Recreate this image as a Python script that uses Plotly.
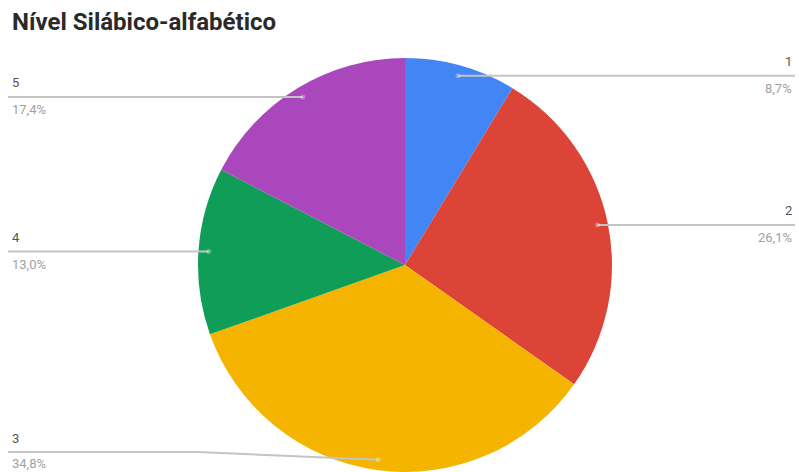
import math
import plotly.graph_objects as go

categories = ["1", "2", "3", "4", "5"]
counts = [2, 6, 8, 3, 4]
colors = ["#4285F4", "#DB4437", "#F4B400", "#0F9D58", "#AB47BC"]
title = "Nível Silábico-alfabético"

W, H = 799, 472
# pie placement in pixels
cx, cy, r = 405, 265, 207
dom_x = [(cx - r) / W, (cx + r) / W]
dom_y = [1 - (cy + r) / H, 1 - (cy - r) / H]

fig = go.Figure(go.Pie(
    labels=categories, values=counts, sort=False, direction="clockwise",
    rotation=0, marker=dict(colors=colors, line=dict(width=0)),
    textinfo="none", hoverinfo="label+percent", showlegend=False,
    domain=dict(x=dom_x, y=dom_y),
))

def px(x):
    return x / W

def py(y):
    return 1 - y / H

total = sum(counts)
shapes, annotations = [], []
cum = 0
bottom_limit = 452
for cat, v, col in zip(categories, counts, colors):
    mid = (cum + v / 2) / total * 2 * math.pi
    cum += v
    dx = math.sin(mid) * r * 0.95
    dy = -math.cos(mid) * r * 0.95
    dot_x, dot_y = cx + dx, cy + dy
    line_y = min(dot_y, bottom_limit)
    right = dx > 0
    edge_x = 795 if right else 8
    if dot_y > bottom_limit:
        bend_x = dot_x + (180 if right else -180)
        path = f"M{px(dot_x)},{py(dot_y)} L{px(bend_x)},{py(line_y)} L{px(edge_x)},{py(line_y)}"
    else:
        path = f"M{px(dot_x)},{py(dot_y)} L{px(edge_x)},{py(line_y)}"
    shapes.append(dict(type="path", path=path, xref="paper", yref="paper",
                       line=dict(color="#c4c4c4", width=2)))
    shapes.append(dict(type="circle", xref="paper", yref="paper",
                       xsizemode="pixel", ysizemode="pixel",
                       xanchor=px(dot_x), yanchor=py(dot_y),
                       x0=-2.5, x1=2.5, y0=-2.5, y1=2.5,
                       fillcolor="rgba(255,255,255,0.3)", line=dict(width=0)))
    pct = f"{v * 100 / total:.1f}".replace(".", ",") + "%"
    tx = 794 if right else 10
    anchor = "right" if right else "left"
    annotations.append(dict(text=cat, x=px(tx), y=py(line_y - 14), xref="paper", yref="paper",
                            xanchor=anchor, yanchor="middle", showarrow=False,
                            font=dict(family="Roboto", size=13, color="#555")))
    annotations.append(dict(text=pct, x=px(tx), y=py(min(line_y + 13, 463)),
                            xref="paper", yref="paper",
                            xanchor=anchor, yanchor="middle", showarrow=False,
                            font=dict(family="Roboto", size=13, color="#a0a0a0")))

annotations.append(dict(text=f"<b>{title}</b>", x=px(10), y=py(22), xref="paper", yref="paper",
                        xanchor="left", yanchor="middle", showarrow=False,
                        font=dict(family="Roboto", size=24, color="#2a2a2a")))

fig.update_layout(
    width=W, height=H, margin=dict(l=0, r=0, t=0, b=0),
    paper_bgcolor="white", plot_bgcolor="white",
    shapes=shapes, annotations=annotations,
)

fig.write_html("out.html")
